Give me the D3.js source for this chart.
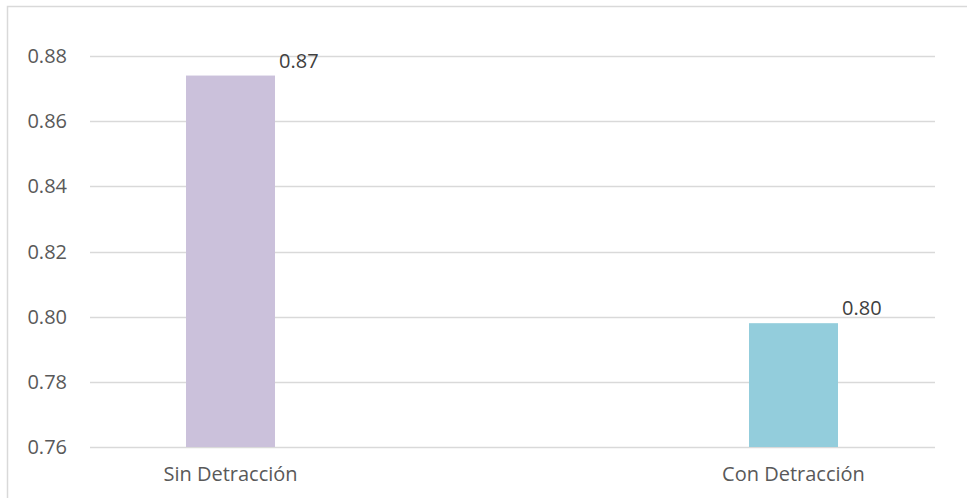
<!DOCTYPE html>
<html><head><meta charset="utf-8">
<script src="https://cdn.jsdelivr.net/npm/d3@7"></script>
<style>
body{margin:0;background:#fff;}
text{font-family:"Open Sans","Liberation Sans",sans-serif;}
</style></head>
<body>
<script>
const categories = ["Sin Detracción", "Con Detracción"];
const values = [0.874, 0.798];
const valueLabels = ["0.87", "0.80"];
const yTicks = [0.76, 0.78, 0.80, 0.82, 0.84, 0.86, 0.88];
const colors = ["#CBC1DB", "#93CDDC"];

const W = 967, H = 498;
const svg = d3.select("body").append("svg").attr("width", W).attr("height", H);

svg.append("rect").attr("x", 7.5).attr("y", 6.5).attr("width", W + 10).attr("height", H + 10)
  .attr("fill", "none").attr("stroke", "#d9d9d9").attr("stroke-width", 1.5);

const y = d3.scaleLinear().domain([0.76, 0.88]).range([447, 56]);
const x = d3.scalePoint().domain(categories).range([230.5, 793.5]);
const barW = 89;
const gridX0 = 90, gridX1 = 935;
const fs = 20;

svg.append("g").selectAll("line").data(yTicks).join("line")
  .attr("x1", gridX0).attr("x2", gridX1)
  .attr("y1", d => Math.round(y(d)) + 0.5).attr("y2", d => Math.round(y(d)) + 0.5)
  .attr("stroke", "#d9d9d9").attr("stroke-width", 1.5);

svg.append("g").selectAll("text").data(yTicks).join("text")
  .attr("x", 67).attr("y", d => y(d)).attr("dy", "0.35em")
  .attr("text-anchor", "end").attr("fill", "#595959").attr("font-size", fs)
  .text(d => d3.format(".2f")(d));

svg.append("g").selectAll("rect").data(values).join("rect")
  .attr("x", (d, i) => x(categories[i]) - barW / 2)
  .attr("y", d => y(d))
  .attr("width", barW)
  .attr("height", d => y(0.76) - y(d))
  .attr("fill", (d, i) => colors[i]);

svg.append("g").selectAll("text").data(values).join("text")
  .attr("x", (d, i) => x(categories[i]) + barW / 2 + 4)
  .attr("y", d => y(d) - 8)
  .attr("fill", "#404040").attr("font-size", fs)
  .text((d, i) => valueLabels[i]);

svg.append("g").selectAll("text").data(categories).join("text")
  .attr("x", d => x(d)).attr("y", 481)
  .attr("text-anchor", "middle").attr("fill", "#595959").attr("font-size", fs)
  .text(d => d);
</script>
</body></html>
